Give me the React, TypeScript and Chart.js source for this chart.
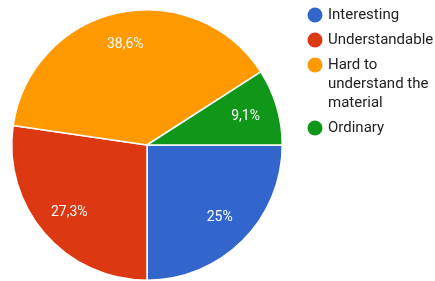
import React, { useEffect, useRef } from "react";
import { Chart, registerables } from "chart.js";

Chart.register(...registerables);

const categories = ["Interesting", "Understandable", "Hard to understand the material", "Ordinary"];
const legendLines = [["Interesting"], ["Understandable"], ["Hard to", "understand the", "material"], ["Ordinary"]];
const values = [25, 27.3, 38.6, 9.1];
const valueLabels = ["25%", "27,3%", "38,6%", "9,1%"];
const colors = ["#3366cc", "#dc3912", "#ff9900", "#109618"];

const labelPlugin = {
  id: "sliceLabels",
  afterDatasetsDraw(chart: any) {
    const ctx = chart.ctx;
    const meta = chart.getDatasetMeta(0);
    ctx.save();
    ctx.fillStyle = "#ffffff";
    ctx.font = "14px Roboto";
    ctx.textAlign = "center";
    ctx.textBaseline = "middle";
    meta.data.forEach((arc: any, i: number) => {
      const { x, y, startAngle, endAngle, outerRadius } = arc.getProps(["x", "y", "startAngle", "endAngle", "outerRadius"], true);
      const mid = (startAngle + endAngle) / 2;
      const r = outerRadius * 0.76;
      ctx.fillText(valueLabels[i], x + Math.cos(mid) * r, y + Math.sin(mid) * r);
    });
    ctx.restore();
  },
};

const legendPlugin = {
  id: "sideLegend",
  afterDraw(chart: any) {
    const ctx = chart.ctx;
    ctx.save();
    ctx.font = "15px Roboto";
    ctx.textBaseline = "middle";
    ctx.textAlign = "left";
    let y = 15;
    legendLines.forEach((lines, i) => {
      ctx.fillStyle = colors[i];
      ctx.beginPath();
      ctx.arc(315, y, 7.5, 0, Math.PI * 2);
      ctx.fill();
      ctx.fillStyle = "#222222";
      lines.forEach((t, j) => {
        ctx.fillText(t, 328, y + j * 19);
      });
      y += (lines.length - 1) * 19 + 25;
    });
    ctx.restore();
  },
};

export default function App() {
  const ref = useRef<HTMLCanvasElement>(null);
  useEffect(() => {
    document.body.style.margin = "0";
    const chart = new Chart(ref.current!, {
      type: "pie",
      data: {
        labels: categories,
        datasets: [
          {
            data: values,
            backgroundColor: colors,
            borderColor: "#ffffff",
            borderWidth: 1.5,
          },
        ],
      },
      options: {
        animation: false,
        responsive: false,
        rotation: 90,
        layout: { padding: { left: 11, right: 152, top: 9, bottom: 0 } },
        plugins: {
          legend: { display: false },
          tooltip: { enabled: false },
        },
      },
      plugins: [labelPlugin, legendPlugin],
    });
    return () => chart.destroy();
  }, []);
  return (
    <div style={{ position: "absolute", left: 0, top: 0, width: 435, height: 281 }}>
      <canvas ref={ref} width={435} height={281} style={{ width: 435, height: 281 }} />
    </div>
  );
}
